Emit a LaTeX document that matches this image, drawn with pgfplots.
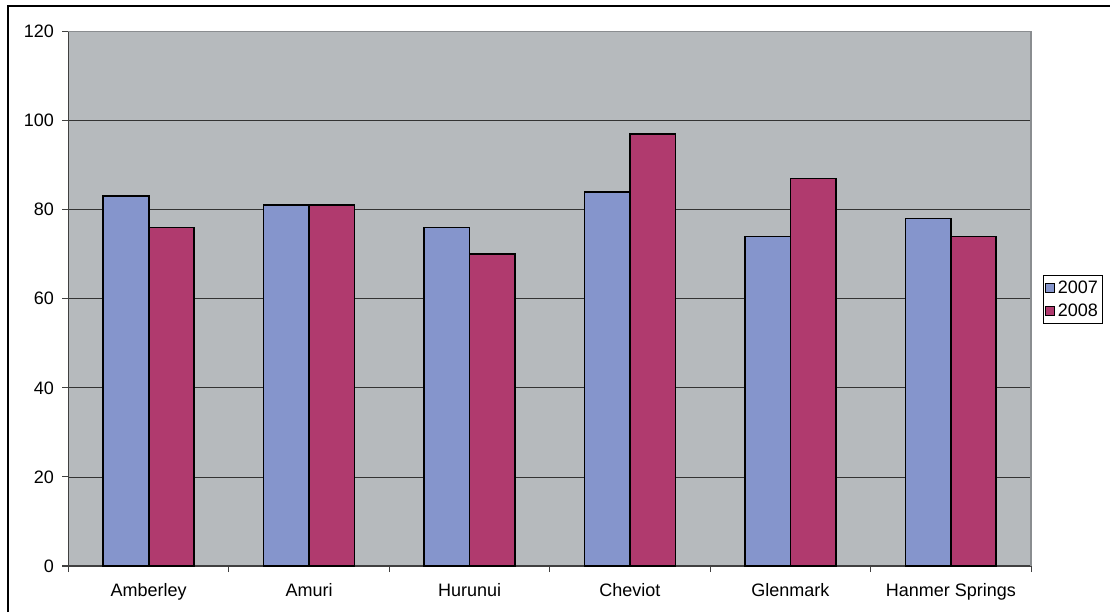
\documentclass[border=0pt]{standalone}
\usepackage{pgfplots}
\pgfplotsset{compat=1.18}
\usepackage{fontspec}
\setmainfont{Liberation Sans}

\definecolor{plotgray}{HTML}{B6BABD}
\definecolor{bargray}{HTML}{8A8D90}
\definecolor{blue07}{HTML}{8595CC}
\definecolor{red08}{HTML}{B03A6E}

\begin{document}
\begin{tikzpicture}
  \begin{axis}[
    at={(51.375pt,34.5pt)}, anchor=south west,
    scale only axis,
    width=721.9pt, height=400.9pt,
    ymin=0, ymax=120,
    xmin=-0.5, xmax=5.5,
    ytick={0,20,...,120},
    xtick={0,...,5},
    xticklabels={Amberley,Amuri,Hurunui,Cheviot,Glenmark,Hanmer Springs},
    minor xtick={-0.5,0.5,...,5.5},
    major x tick style={draw=none},
    tick align=outside,
    major tick length=4.5pt,
    minor tick length=4.5pt,
    tick style={black!75,line width=0.8pt},
    axis background/.style={fill=plotgray},
    axis lines*=left,
    axis line style={black!75,line width=0.9pt},
    ymajorgrids,
    major grid style={black!80,line width=0.6pt},
    ybar=0pt,
    bar width=34.1pt,
    /pgf/number format/assume math mode=true,
    tick label style={font=\fontsize{13.5}{15}\selectfont},
    yticklabel style={xshift=-3pt},
    xticklabel style={yshift=-5pt},
    legend style={
      at={(1.0125,0.5444)}, anchor=north west,
      draw=black, line width=0.6pt,
      font=\fontsize{13.5}{15}\selectfont,
      inner xsep=1.5pt, inner ysep=2pt,
      row sep=2.5pt,
      /tikz/every even column/.append style={column sep=0pt},
    },
    legend cell align=left,
    legend image code/.code={
      \draw[#1,draw=black,line width=0.7pt] (0pt,-3.3pt) rectangle (6.6pt,3.3pt);
    },
    clip=false,
  ]
    \addplot[fill=blue07,draw=black,line width=1.2pt]
      coordinates {(0,83) (1,81) (2,76) (3,84) (4,74) (5,78)};
    \addplot[fill=red08,draw=black,line width=1.2pt]
      coordinates {(0,76) (1,81) (2,70) (3,97) (4,87) (5,74)};
    \legend{2007,2008}
    % thin gray border on the top and right of the plot area
    \draw[bargray,line width=0.9pt] (rel axis cs:0,1) -- (rel axis cs:1,1) -- (rel axis cs:1,0);
  \end{axis}
  % outer chart frame and the page size
  \draw[black,line width=1.5pt] (6pt,0pt) -- (6pt,454.5pt) -- (832.5pt,454.5pt);
  \pgfresetboundingbox
  \path[use as bounding box] (0pt,0pt) rectangle (832.5pt,459pt);
\end{tikzpicture}
\end{document}
